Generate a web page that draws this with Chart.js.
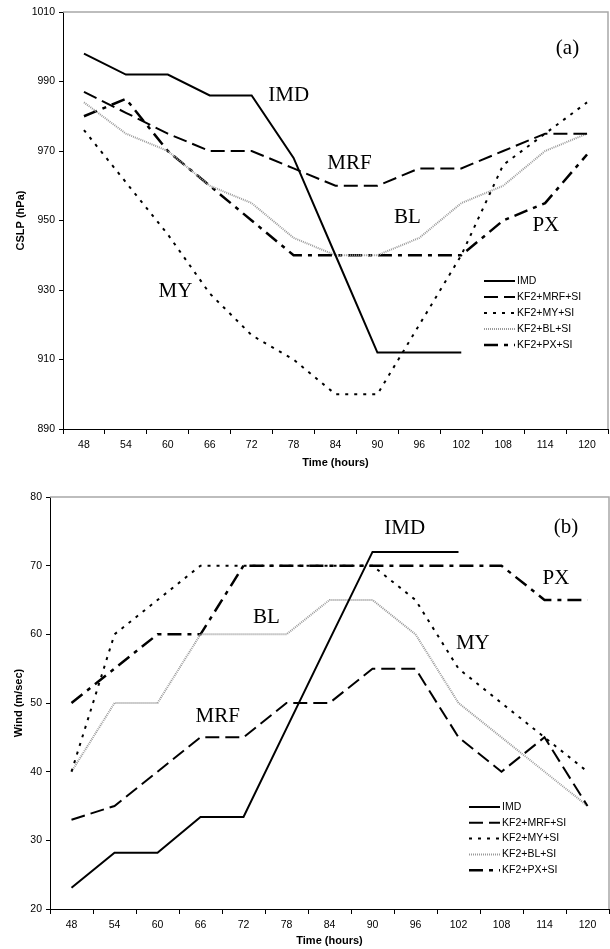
<!DOCTYPE html>
<html lang="en">
<head>
    <meta charset="UTF-8">
    <title>CSLP and Wind</title>
    <script src="https://cdn.jsdelivr.net/npm/chart.js"></script>
    <style>
        body { margin: 0; background: #fff; }
        .panel { position: absolute; left: 0; }
        #panelA { top: 0; }
        #panelB { top: 475px; }
    </style>
</head>
<body>
    <div class="panel" id="panelA"><canvas id="chartA" width="610" height="475"></canvas></div>
    <div class="panel" id="panelB"><canvas id="chartB" width="610" height="474"></canvas></div>

    <script>
        // forecast hours on the x axis
        const hours = ['48', '54', '60', '66', '72', '78', '84', '90', '96', '102', '108', '114', '120'];
        const seriesNames = ['IMD', 'KF2+MRF+SI', 'KF2+MY+SI', 'KF2+BL+SI', 'KF2+PX+SI'];

        // (a) central sea level pressure, hPa
        const cslpImd = [998, 992, 992, 986, 986, 968, 940, 912, 912, 912, null, null, null];
        const cslpMrf = [987, 981, 975, 970, 970, 965, 960, 960, 965, 965, 970, 975, 975];
        const cslpMy  = [976, 961, 946, 929, 917, 910, 900, 900, 920, 940, 966, 975, 984];
        const cslpBl  = [984, 975, 970, 960, 955, 945, 940, 940, 945, 955, 960, 970, 975];
        const cslpPx  = [980, 985, 970, 960, 950, 940, 940, 940, 940, 940, 950, 955, 969];

        // (b) maximum wind, m/sec
        const windImd = [23.1, 28.2, 28.2, 33.4, 33.4, 46.3, 59.2, 72, 72, 72, null, null, null];
        const windMrf = [33, 35, 40, 45, 45, 50, 50, 55, 55, 45, 40, 45, 35];
        const windMy  = [40, 60, 65, 70, 70, 70, 70, 70, 65, 55, 50, 45, 40];
        const windBl  = [40, 50, 50, 60, 60, 60, 65, 65, 60, 50, 45, 40, 35];
        const windPx  = [50, 55, 60, 60, 70, 70, 70, 70, 70, 70, 70, 65, 65];

        // text written inside the plots: text, hour, value
        const notesA = [['(a)', 117.2, 999.5], ['IMD', 77.3, 986], ['MRF', 86, 966.3], ['BL', 94.3, 951], ['PX', 114.1, 948.5], ['MY', 61.1, 929.5]];
        const notesB = [['(b)', 117, 75.6], ['IMD', 94.5, 75.4], ['PX', 115.6, 68.1], ['BL', 75.2, 62.5], ['MY', 104, 58.7], ['MRF', 68.4, 48]];

        // line look for each series, same order as seriesNames
        const styles = [
            { color: '#000', width: 2, dash: [] },
            { color: '#000', width: 2, dash: [14, 6] },
            { color: '#000', width: 2, dash: [3, 6] },
            { color: '#9a9a9a', width: 2, dash: [1, 1] },
            { color: '#000', width: 2.5, dash: [14, 6, 4, 6] }
        ];

        function makeDatasets(values) {
            return values.map((v, i) => ({
                label: seriesNames[i],
                data: v,
                borderColor: styles[i].color,
                borderWidth: styles[i].width,
                borderDash: styles[i].dash,
                pointRadius: 0,
                tension: 0,
                fill: false,
                spanGaps: false
            }));
        }

        // plot frame, legend box and annotation text
        const extras = {
            id: 'extras',
            beforeDatasetsDraw(chart, args, opts) {
                const a = chart.chartArea, ctx = chart.ctx;
                ctx.save();
                ctx.strokeStyle = '#a8a8a8';
                ctx.lineWidth = 1.5;
                ctx.beginPath();
                ctx.moveTo(a.left, a.top);
                ctx.lineTo(a.right, a.top);
                ctx.lineTo(a.right, a.bottom);
                ctx.stroke();
                ctx.restore();
            },
            afterDatasetsDraw(chart, args, opts) {
                const ctx = chart.ctx;
                const x = chart.scales.x, y = chart.scales.y;
                ctx.save();
                // legend
                ctx.font = '10.5px "Liberation Sans", Arial, sans-serif';
                ctx.textBaseline = 'middle';
                ctx.fillStyle = '#000';
                chart.data.datasets.forEach((ds, i) => {
                    const ly = opts.legendY + i * opts.legendStep;
                    ctx.beginPath();
                    ctx.strokeStyle = ds.borderColor;
                    ctx.lineWidth = ds.borderWidth;
                    ctx.setLineDash(ds.borderDash);
                    ctx.moveTo(opts.legendX, ly);
                    ctx.lineTo(opts.legendX + 31, ly);
                    ctx.stroke();
                    ctx.setLineDash([]);
                    ctx.fillText(ds.label, opts.legendX + 33, ly);
                });
                // labels inside the plot
                ctx.font = '21px "Liberation Serif", "Times New Roman", serif';
                ctx.textAlign = 'center';
                opts.notes.forEach(n => {
                    const px = x.getPixelForValue((n[1] - 48) / 6);
                    ctx.fillText(n[0], px, y.getPixelForValue(n[2]));
                });
                ctx.restore();
            }
        };

        function makeChart(id, values, cfg) {
            return new Chart(document.getElementById(id), {
                type: 'line',
                data: { labels: hours, datasets: makeDatasets(values) },
                plugins: [extras],
                options: {
                    responsive: false,
                    animation: false,
                    layout: { padding: { top: cfg.padTop, right: cfg.padRight, left: 0, bottom: 0 } },
                    plugins: {
                        legend: { display: false },
                        tooltip: { enabled: false },
                        extras: { legendX: cfg.legendX, legendY: cfg.legendY, legendStep: cfg.legendStep, notes: cfg.notes }
                    },
                    scales: {
                        x: {
                            offset: true,
                            grid: { display: true, drawOnChartArea: false, offset: true, tickLength: 5, color: '#000' },
                            border: { color: '#000', width: 1 },
                            ticks: { color: '#000', padding: 5, maxRotation: 0, font: { size: 10.5, family: '"Liberation Sans", Arial' } },
                            title: { display: true, text: 'Time (hours)', color: '#000', padding: { top: 0, bottom: cfg.xTitlePad },
                                     font: { size: 11, weight: 'bold', family: '"Liberation Sans", Arial' } },
                            afterFit: s => { s.height = cfg.xHeight; }
                        },
                        y: {
                            min: cfg.yMin, max: cfg.yMax,
                            grid: { display: true, drawOnChartArea: false, tickLength: 4, color: '#000' },
                            border: { color: '#000', width: 1 },
                            ticks: { stepSize: cfg.yStep, color: '#000', padding: 4, callback: v => String(v),
                                     font: { size: 10.5, family: '"Liberation Sans", Arial' } },
                            title: { display: true, text: cfg.yTitle, color: '#000', padding: { top: cfg.yTitlePad, bottom: 0 },
                                     font: { size: 11, weight: 'bold', family: '"Liberation Sans", Arial' } },
                            afterFit: s => { s.width = cfg.yWidth; }
                        }
                    }
                }
            });
        }

        makeChart('chartA', [cslpImd, cslpMrf, cslpMy, cslpBl, cslpPx], {
            yMin: 890, yMax: 1010, yStep: 20, yTitle: 'CSLP (hPa)',
            padTop: 12, padRight: 2, yWidth: 63, xHeight: 46, xTitlePad: 5, yTitlePad: 14,
            legendX: 484, legendY: 281, legendStep: 16, notes: notesA
        });

        makeChart('chartB', [windImd, windMrf, windMy, windBl, windPx], {
            yMin: 20, yMax: 80, yStep: 10, yTitle: 'Wind (m/sec)',
            padTop: 22, padRight: 1, yWidth: 50, xHeight: 40, xTitlePad: 1, yTitlePad: 12,
            legendX: 469, legendY: 332, legendStep: 15.8, notes: notesB
        });
    </script>
</body>
</html>
